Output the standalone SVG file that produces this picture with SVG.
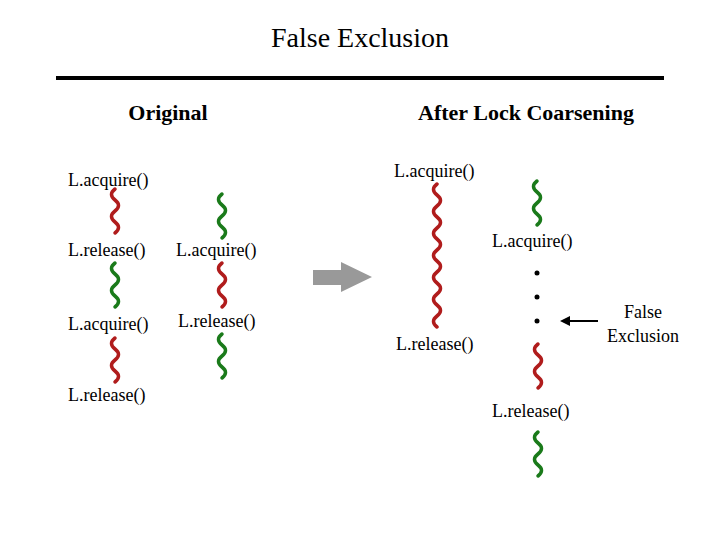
<svg xmlns="http://www.w3.org/2000/svg" xmlns:xlink="http://www.w3.org/1999/xlink" width="720" height="540" viewBox="0 0 720 540">
<style>
text{font-family:"Liberation Serif",serif;font-size:18px;fill:#000}
.h{font-size:22px;font-weight:bold}
.t{font-size:28px}
.r{fill:none;stroke:#b01c1c;stroke-width:3.5;stroke-linecap:round}
.g{fill:none;stroke:#1a7a1a;stroke-width:3.5;stroke-linecap:round}
</style>
<defs>
<path id="s" d="M0 0 q-7 5.5 0 11 q7 5.5 0 11 q-7 5.5 0 11 q7 5.5 0 11"/>
<path id="L" d="M0 0 q-7 5.5 0 11 q7 5.5 0 11 q-7 5.5 0 11 q7 5.5 0 11 q-7 5.5 0 11 q7 5.5 0 11 q-7 5.5 0 11 q7 5.5 0 11 q-7 5.5 0 11 q7 5.5 0 11 q-7 5.5 0 11 q7 5.5 0 11 q-7 5.5 0 11"/>
</defs>
<rect width="720" height="540" fill="#fff"/>
<text class="t" x="360" y="47" text-anchor="middle">False Exclusion</text>
<rect x="56" y="76" width="608" height="4" fill="#000"/>
<text class="h" x="168" y="120" text-anchor="middle">Original</text>
<text class="h" x="526" y="120" text-anchor="middle">After Lock Coarsening</text>
<g id="orig">
<text x="68" y="186">L.acquire()</text>
<text x="68" y="256">L.release()</text>
<text x="176" y="256">L.acquire()</text>
<text x="68" y="330">L.acquire()</text>
<text x="178" y="327">L.release()</text>
<text x="68" y="401">L.release()</text>
<use href="#s" class="r" x="115" y="189"/>
<use href="#s" class="g" x="115" y="263"/>
<use href="#s" class="r" x="115" y="338"/>
<use href="#s" class="g" x="222" y="194"/>
<use href="#s" class="r" x="222" y="263"/>
<use href="#s" class="g" x="222" y="334"/>
</g>
<g id="arrow"><polygon points="313,270 341,270 341,262 372,277 341,292 341,285 313,285" fill="#999"/></g>
<g id="coarse">
<text x="394" y="177">L.acquire()</text>
<text x="396" y="350">L.release()</text>
<text x="492" y="247">L.acquire()</text>
<text x="492" y="417">L.release()</text>
<use href="#L" class="r" x="437" y="184"/>
<use href="#s" class="g" x="537" y="181"/>
<circle cx="537" cy="273" r="2.5"/>
<circle cx="537" cy="297" r="2.5"/>
<circle cx="537" cy="321" r="2.5"/>
<use href="#s" class="r" x="538" y="344"/>
<use href="#s" class="g" x="538" y="432"/>
</g>
<g id="connectors">
<line x1="598" y1="321" x2="568" y2="321" stroke="#000" stroke-width="2"/>
<polygon points="560,321 570,316 570,326" fill="#000"/>
</g>
<text x="643" y="318" text-anchor="middle">False</text>
<text x="643" y="342" text-anchor="middle">Exclusion</text>
</svg>
